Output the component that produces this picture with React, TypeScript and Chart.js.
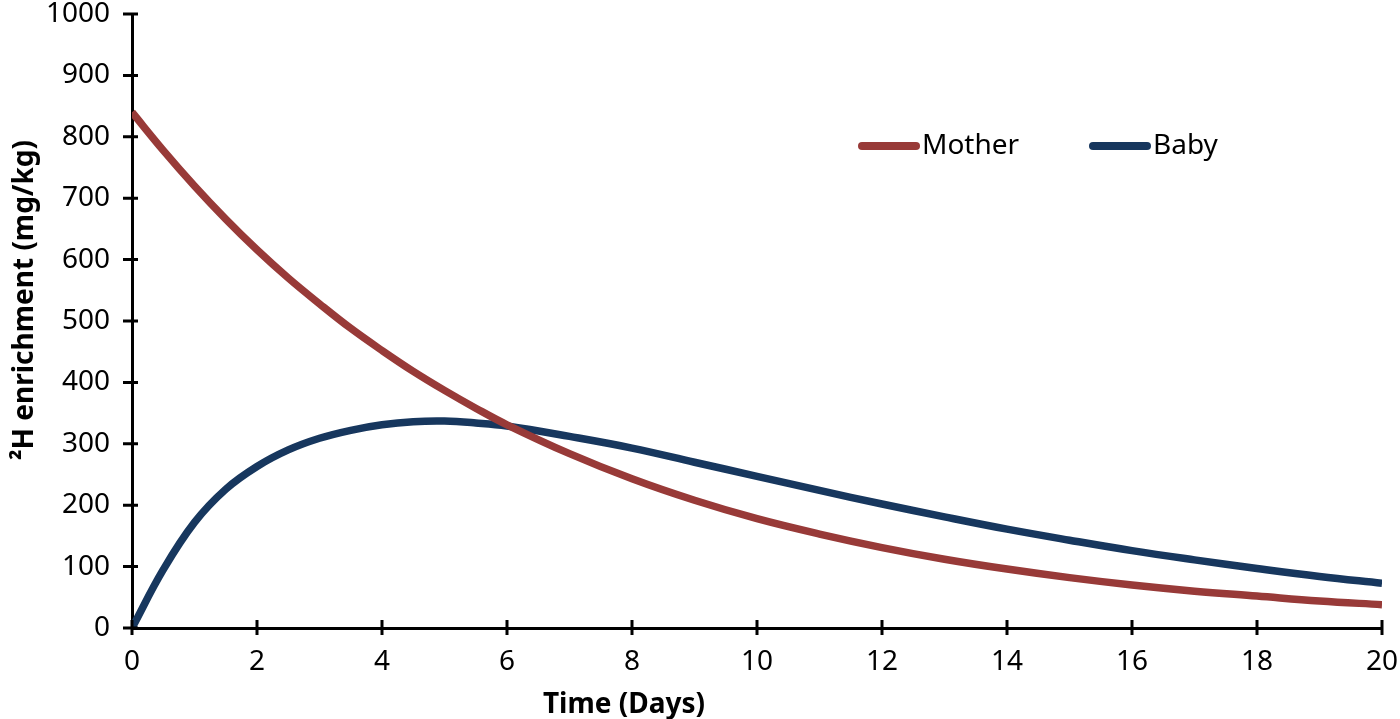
import React, { useEffect, useRef } from "react";
import { Chart, registerables } from "chart.js";

Chart.register(...registerables);

const days = [0, 0.5, 1, 1.5, 2, 2.5, 3, 3.5, 4, 4.5, 5, 5.5, 6, 7, 8, 9, 10, 11, 12, 13, 14, 15, 16, 17, 18, 19, 20];
const mother = [840, 778, 720, 666, 616, 570, 528, 488, 452, 418, 387, 358, 331, 284, 243, 208, 178, 153, 131, 112, 96, 82, 70, 60, 52, 44, 38];
const baby = [0, 95, 172, 226, 263, 290, 309, 322, 331, 336, 337, 334, 329, 312, 293, 270, 247, 224, 202, 181, 161, 143, 126, 111, 97, 84, 73];
const seriesNames = ["Mother", "Baby"];
const seriesColors = ["#983a38", "#17375e"];
const yTitle = "²H enrichment (mg/kg)";
const xTitle = "Time (Days)";

const FONT = "'Noto Sans', sans-serif";

const crossTicks = {
  id: "crossTicks",
  afterDraw(chart: any) {
    const ctx = chart.ctx;
    const xs = chart.scales.x;
    const ys = chart.scales.y;
    const area = chart.chartArea;
    ctx.save();
    ctx.strokeStyle = "#000";
    ctx.lineWidth = 3;
    ctx.beginPath();
    ys.ticks.forEach((t: any) => {
      const py = ys.getPixelForValue(t.value);
      ctx.moveTo(area.left - 9, py);
      ctx.lineTo(area.left + 6, py);
    });
    xs.ticks.forEach((t: any) => {
      const px = xs.getPixelForValue(t.value);
      ctx.moveTo(px, area.bottom - 8);
      ctx.lineTo(px, area.bottom + 7);
    });
    ctx.stroke();
    ctx.restore();
  },
};

const titlesAndLegend = {
  id: "titlesAndLegend",
  afterDraw(chart: any) {
    const ctx = chart.ctx;
    const area = chart.chartArea;
    const w = area.right - area.left;
    const h = area.bottom - area.top;
    ctx.save();
    ctx.fillStyle = "#000";
    ctx.font = `bold 28px ${FONT}`;
    ctx.textAlign = "center";
    ctx.textBaseline = "alphabetic";
    ctx.fillText(xTitle, area.left + w * ((624 - 132) / 1250), area.bottom + 85);
    ctx.save();
    ctx.translate(area.left - 99, area.top + h * ((300 - 14) / 614));
    ctx.rotate(-Math.PI / 2);
    ctx.fillText(yTitle, 0, 0);
    ctx.restore();
    const y = area.top + (146 - 14);
    const starts = [area.left + w * ((862 - 132) / 1250), area.left + w * ((1093 - 132) / 1250)];
    chart.data.datasets.forEach((ds: any, i: number) => {
      const x0 = starts[i];
      ctx.strokeStyle = ds.borderColor;
      ctx.lineWidth = 8;
      ctx.lineCap = "round";
      ctx.beginPath();
      ctx.moveTo(x0, y);
      ctx.lineTo(x0 + 54, y);
      ctx.stroke();
      ctx.fillStyle = "#000";
      ctx.font = `28px ${FONT}`;
      ctx.textBaseline = "middle";
      ctx.textAlign = "left";
      ctx.fillText(ds.label, x0 + 60, y);
    });
    ctx.restore();
  },
};

export default function App() {
  const ref = useRef<HTMLCanvasElement>(null);
  useEffect(() => {
    const canvas = ref.current;
    if (!canvas) return;
    const chart = new Chart(canvas, {
      type: "line",
      data: {
        datasets: [mother, baby].map((vals, i) => ({
          label: seriesNames[i],
          data: days.map((d, j) => ({ x: d, y: vals[j] })),
          borderColor: seriesColors[i],
          backgroundColor: seriesColors[i],
          borderWidth: 7.5,
          pointRadius: 0,
          tension: 0.4,
          fill: false,
        })),
      },
      options: {
        animation: false,
        responsive: false,
        maintainAspectRatio: false,
        layout: { padding: { top: 14, right: 18, bottom: 0, left: 0 } },
        plugins: {
          legend: { display: false },
          tooltip: { enabled: false },
        },
        scales: {
          x: {
            type: "linear",
            min: 0,
            max: 20,
            afterFit: (s: any) => {
              s.height = 91;
              s.paddingLeft = 0;
              s.paddingRight = 0;
            },
            ticks: {
              stepSize: 2,
              color: "#000",
              font: { family: FONT, size: 28 },
              padding: 17,
              maxRotation: 0,
            },
            grid: { display: false, drawTicks: false },
            border: { display: true, color: "#000", width: 3 },
          },
          y: {
            min: 0,
            max: 1000,
            afterFit: (s: any) => {
              s.width = 132;
              s.paddingTop = 0;
              s.paddingBottom = 0;
            },
            ticks: {
              stepSize: 100,
              color: "#000",
              font: { family: FONT, size: 28 },
              padding: 22,
              callback: (v: any) => String(v),
            },
            grid: { display: false, drawTicks: false },
            border: { display: true, color: "#000", width: 3 },
          },
        },
      },
      plugins: [crossTicks, titlesAndLegend],
    });
    return () => chart.destroy();
  }, []);
  return (
    <div style={{ position: "fixed", left: 0, top: 0, width: 1400, height: 719, background: "#fff" }}>
      <canvas ref={ref} width={1400} height={719} style={{ width: 1400, height: 719 }} />
    </div>
  );
}
